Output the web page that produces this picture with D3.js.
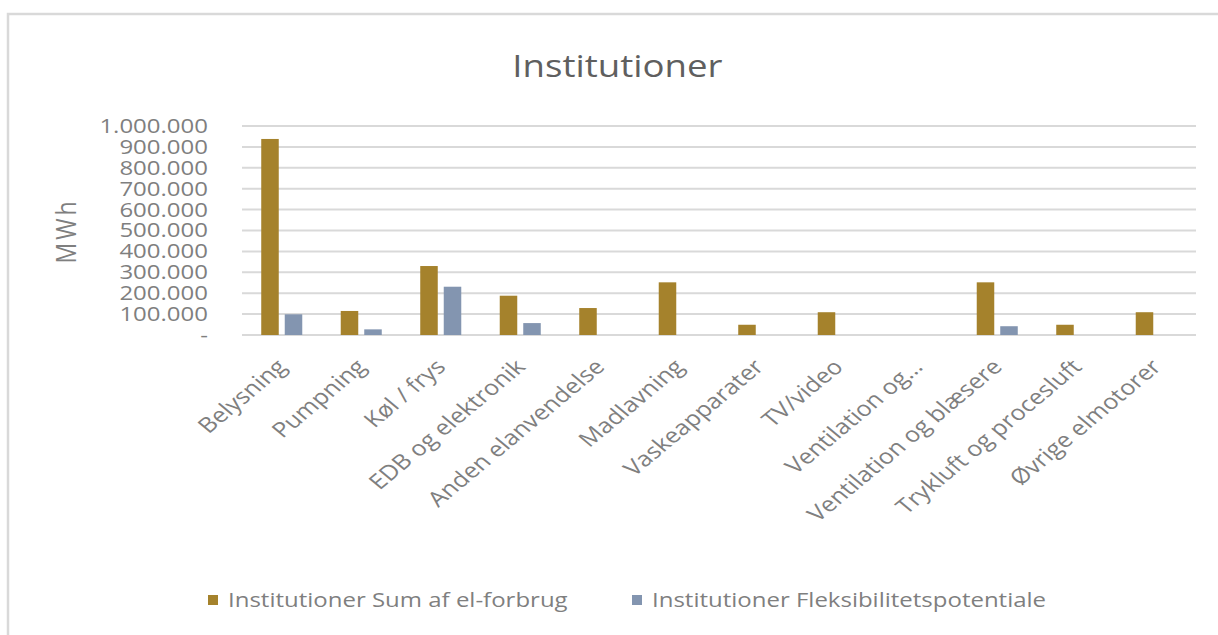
<!DOCTYPE html>
<html>
<head>
<meta charset="utf-8">
<script src="https://cdn.jsdelivr.net/npm/d3@7"></script>
<style>
  html, body { margin: 0; padding: 0; background: #fff; }
  #chart { width: 1218px; height: 635px; }
  text { font-family: "Open Sans", sans-serif; }
</style>
</head>
<body>
<div id="chart"></div>
<script>
//Datos
const categorias = ['Belysning', 'Pumpning', 'Køl / frys', 'EDB og elektronik', 'Anden elanvendelse', 'Madlavning',
    'Vaskeapparater', 'TV/video', 'Ventilation og…', 'Ventilation og blæsere', 'Trykluft og procesluft', 'Øvrige elmotorer'];
const sumForbrug = [938000, 115000, 330000, 188000, 129000, 252000, 49000, 109000, 0, 252000, 49000, 109000];
const fleksibilitet = [99000, 27000, 231000, 57000, 0, 0, 0, 0, 0, 42000, 0, 0];
const series = ['Institutioner Sum af el-forbrug', 'Institutioner Fleksibilitetspotentiale'];
const yTicks = [0, 100000, 200000, 300000, 400000, 500000, 600000, 700000, 800000, 900000, 1000000];

//Colores
const COLOR_GOLD = '#A5822C', COLOR_BLUE = '#8395B0', COLOR_GRID = '#D9D9D9', COLOR_TEXT = '#7F7F7F';

//La imagen original está estirada en horizontal
const SX = 1.2;
const W = 1218, H = 635;

let margin = {top: 126, bottom: 300, left: 242 / SX, right: (W - 1196) / SX};
let innerW = W / SX - margin.left - margin.right;

let svg = d3.select('#chart').append('svg')
    .attr('width', W).attr('height', H);

//Marco
svg.append('rect')
    .attr('x', 8).attr('y', 14)
    .attr('width', W + 20).attr('height', H + 20)
    .attr('fill', 'none').attr('stroke', COLOR_GRID).attr('stroke-width', 2.5);

let root = svg.append('g').attr('transform', 'scale(' + SX + ',1)');

let data = categorias.map(function(c, i) { return {cat: c, values: [sumForbrug[i], fleksibilitet[i]]}; });

let x = d3.scaleBand().domain(categorias).range([margin.left, margin.left + innerW]).padding(0);
let step = x.step();
let x1 = d3.scaleBand().domain(series)
    .range([step * 0.242, step * 0.758]).paddingInner(0.255);

let y = d3.scaleLinear().domain([0, 1000000]).range([335, 126]);

let loc = d3.formatLocale({decimal: ',', thousands: '.', grouping: [3], currency: ['', ' kr']});
let fmt = function(v) { return v === 0 ? '-' : loc.format(',')(v); };

let color = d3.scaleOrdinal().domain(series).range([COLOR_GOLD, COLOR_BLUE]);

//Título
root.append('text')
    .attr('x', (W / SX) / 2 + 7).attr('y', 77)
    .attr('text-anchor', 'middle')
    .attr('font-size', 30.5)
    .attr('fill', '#5F5F5F')
    .text('Institutioner');

//Rejilla
root.append('g').selectAll('line')
    .data(yTicks).enter().append('line')
    .attr('x1', margin.left).attr('x2', margin.left + innerW)
    .attr('y1', function(d) { return y(d); }).attr('y2', function(d) { return y(d); })
    .attr('stroke', COLOR_GRID).attr('stroke-width', 2);

//Eje Y
let yAxis = root.append('g')
    .attr('transform', 'translate(' + (208 / SX) + ',0)')
    .call(d3.axisLeft(y).tickValues(yTicks).tickFormat(fmt).tickSize(0).tickPadding(0));
yAxis.select('.domain').remove();
yAxis.selectAll('text')
    .attr('font-size', 20)
    .attr('font-family', '"Open Sans", sans-serif')
    .attr('fill', COLOR_TEXT);

root.append('text')
    .attr('transform', 'translate(' + (66 / SX) + ',231) rotate(-90)')
    .attr('text-anchor', 'middle')
    .attr('dy', '0.35em')
    .attr('font-size', 23)
    .attr('letter-spacing', 3)
    .attr('fill', COLOR_TEXT)
    .text('MWh');

//Barras
root.append('g').selectAll('g')
    .data(data).enter().append('g')
    .attr('transform', function(d) { return 'translate(' + x(d.cat) + ',0)'; })
    .selectAll('rect')
    .data(function(d) { return series.map(function(s, i) { return {key: s, value: d.values[i]}; }); })
    .enter().append('rect')
    .attr('x', function(d) { return x1(d.key); })
    .attr('width', x1.bandwidth())
    .attr('y', function(d) { return y(d.value); })
    .attr('height', function(d) { return y(0) - y(d.value); })
    .attr('fill', function(d) { return color(d.key); });

//Eje X (etiquetas rotadas)
let xAxis = root.append('g')
    .attr('transform', 'translate(0,' + 363 + ')')
    .call(d3.axisBottom(x).tickSize(0).tickPadding(0));
xAxis.select('.domain').remove();
xAxis.selectAll('text')
    .attr('font-size', 21)
    .attr('font-family', '"Open Sans", sans-serif')
    .attr('fill', COLOR_TEXT)
    .attr('text-anchor', 'end')
    .attr('y', 0).attr('dy', '0.35em')
    .attr('transform', 'rotate(-45)');

//Leyenda
let legend = root.append('g').attr('transform', 'translate(0,600)');
let legendX = [208 / SX, 632 / SX];
series.forEach(function(s, i) {
    let g = legend.append('g').attr('transform', 'translate(' + legendX[i] + ',0)');
    g.append('rect')
        .attr('x', 0).attr('y', -5)
        .attr('width', 10 / SX).attr('height', 10)
        .attr('fill', color(s));
    g.append('text')
        .attr('x', 20 / SX).attr('dy', '0.35em')
        .attr('font-size', 20)
        .attr('fill', COLOR_TEXT)
        .text(s);
});
</script>
</body>
</html>
